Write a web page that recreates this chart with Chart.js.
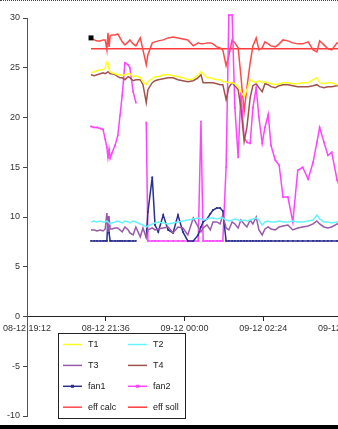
<!DOCTYPE html>
<html>
<head>
<meta charset="utf-8">
<script src="https://cdn.jsdelivr.net/npm/chart.js@4/dist/chart.umd.min.js"></script>
<style>
  html, body { margin: 0; padding: 0; background: #fff; overflow: hidden; }
  #marco { position: relative; width: 338px; height: 429px; overflow: hidden; }
  #grafico { position: absolute; left: 0; top: 0; }
  #lineaSup { position: absolute; left: 0; top: 0; width: 338px; border-top: 1px dotted #444; }
  #bandaInf { position: absolute; left: 0; top: 425px; width: 338px; height: 4px; background: #000; }
</style>
</head>
<body>
<div id="marco">
  <canvas id="grafico" width="400" height="429"></canvas>
  <div id="lineaSup"></div>
  <div id="bandaInf"></div>
</div>
<script>
// horas de medición (08-12 noche -> 09-12 madrugada)
const horas = [
  '21:09','21:15','21:20','21:26','21:31','21:35','21:38','21:40','21:42','21:44',
  '21:47','21:53','21:58','22:02','22:06','22:11','22:17','22:20','22:26','22:31',
  '22:39','22:44','22:50','22:53','23:01','23:06','23:12','23:21','23:30','23:39',
  '23:48','23:57','00:06','00:16','00:25','00:30','00:34','00:41','00:47','00:52',
  '00:59','01:05','01:10','01:16','01:21','01:27','01:32','01:38','01:43','01:49',
  '01:54','02:00','02:05','02:11','02:16','02:22','02:27','02:33','02:38','02:46',
  '02:53','03:00','03:09','03:18','03:27','03:36','03:46','03:55','04:02','04:07',
  '04:15','04:22','04:29','04:39','04:48'
];

const t1 = [
  24.5, 24.6, 24.7, 24.8, 24.8, 25.0, 25.6, 25.5, 24.8, 24.6,
  24.5, 24.4, 24.3, 24.3, 24.2, 24.3, 24.4, 24.4, 24.1, 24.2,
  24.0, 23.6, 23.3, 23.6, 23.9, 24.1, 24.1, 24.3, 24.3, 24.2,
  24.1, 24.0, 23.8, 23.9, 24.3, 24.6, 24.4, 24.0, 24.0, 23.9,
  23.8, 23.8, 23.6, 23.6, 23.5, 23.5, 23.4, 23.1, 22.6, 22.1,
  22.8, 23.8, 23.6, 23.5, 23.7, 23.5, 23.6, 23.5, 23.4, 23.3,
  23.4, 23.5, 23.5, 23.4, 23.4, 23.5, 23.5, 23.8, 24.0, 23.5,
  23.4, 23.5, 23.5, 23.3, 23.4
];

const t2 = [
  9.5, 9.6, 9.5, 9.6, 9.5, 9.5, 9.6, 9.5, 9.4, 9.3,
  9.4, 9.5, 9.6, 9.5, 9.4, 9.6, 9.5, 9.4, 9.6, 9.5,
  9.3, 9.2, 9.0, 9.1, 9.3, 9.4, 9.5, 9.4, 9.3, 9.4,
  9.5, 9.6, 9.7, 9.8, 9.9, 9.8, 9.7, 9.8, 9.9, 9.9,
  9.8, 9.9, 9.9, 9.7, 9.6, 9.7, 9.8, 9.7, 9.6, 9.7,
  9.6, 9.7, 9.8, 9.9, 9.7, 9.2, 9.5, 9.6, 9.5, 9.5,
  9.6, 9.5, 9.5, 9.6, 9.5, 9.5, 9.6, 9.7, 10.2, 9.8,
  9.5, 9.5, 9.4, 9.5, 9.5
];

const t3 = [
  8.7, 8.7, 8.6, 8.7, 8.6, 8.8, 10.4, 8.5, 10.1, 8.8,
  8.8, 8.9, 8.9, 8.7, 8.5, 9.0, 8.7, 8.4, 8.2, 9.0,
  8.0, 8.9, 7.9, 8.7, 8.9, 8.7, 8.8, 8.9, 9.0, 8.4,
  9.0, 8.9, 8.2, 9.9, 9.0, 8.5, 8.9, 9.2, 8.7, 9.5,
  9.5, 9.3, 10.2, 8.9, 8.7, 9.5, 9.3, 8.9, 9.7, 9.3,
  9.0, 9.7, 9.3, 10.0, 8.7, 8.2, 8.8, 9.0, 8.8, 8.7,
  9.0, 9.1, 9.2, 8.7, 8.9, 9.0, 9.1, 9.3, 9.6, 9.3,
  9.0, 8.9, 9.0, 9.3, 9.4
];

const t4 = [
  24.3, 24.2, 24.3, 24.4, 24.5, 24.4, 24.5, 24.6, 24.5, 24.4,
  24.4, 24.3, 24.1, 24.0, 24.0, 23.8, 24.1, 24.0, 23.7, 23.8,
  23.8, 23.3, 21.5, 22.8, 23.5, 23.7, 23.8, 23.9, 24.0, 24.0,
  23.8, 23.7, 23.6, 23.7, 24.0, 24.3, 23.5, 23.5, 23.5, 23.5,
  23.4, 23.3, 23.3, 21.8, 23.0, 23.5, 23.2, 22.8, 21.0, 17.6,
  19.0, 22.0, 23.2, 23.4, 23.0, 22.6, 23.4, 23.3, 23.1, 23.0,
  23.2, 23.3, 23.3, 23.2, 23.1, 23.1, 23.1, 23.2, 23.3, 23.1,
  23.0, 23.1, 23.1, 23.2, 23.3
];

const fan1 = [
  7.6, 7.6, 7.6, 7.6, 7.6, 7.6, 7.6, 10.0, 8.4, 7.6,
  7.6, 7.6, 7.6, 7.6, 7.6, 7.6, 7.6, 7.6, 7.6, 7.6,
  null, null, 8.0, 10.5, 14.0, 9.2, 8.5, 10.2, 8.7, 8.4,
  10.2, 8.5, 7.6, 7.6, 8.2, 9.0, 9.5, 9.8, 10.3, 10.7,
  10.9, 10.9, 10.6, 7.6, 7.6, 7.6, 7.6, 7.6, 7.6, 7.6,
  7.6, 7.6, 7.6, 7.6, 7.6, 7.6, 7.6, 7.6, 7.6, 7.6,
  7.6, 7.6, 7.6, 7.6, 7.6, 7.6, 7.6, 7.6, 7.6, 7.6,
  7.6, 7.6, 7.6, 7.6, 7.6
];

const fan2 = [
  19.1, 19.0, 19.0, 18.9, 18.8, 17.8, 17.0, 16.0, 16.8, 15.9,
  16.4, 17.2, 18.2, 20.2, 22.2, 25.5, 25.3, 25.0, 22.6, 21.5,
  null, null, 19.5, 7.6, 7.6, 7.6, 7.6, 7.6, 7.6, 7.6,
  7.6, 7.6, 7.6, 7.6, 7.6, 19.6, 7.6, 7.6, 7.6, 7.6,
  7.6, 7.6, 7.6, 15.0, 30.3, 30.3, 21.0, 16.0, 22.5, 18.0,
  17.5, 17.4, 21.0, 23.0, 20.0, 17.4, 19.0, 20.3, 17.2, 15.7,
  15.2, 12.0, 12.0, 9.5, 14.7, 15.0, 13.8, 15.5, 17.5, 19.0,
  17.5, 16.2, 16.5, 13.7, 12.5
];

const effCalc = [
  28.0, 27.8, 27.7, 27.7, 27.8, 27.8, 26.8, 28.5, 27.1, 28.2,
  28.3, 28.3, 28.4, 28.0, 27.6, 27.3, 27.6, 27.8, 27.4, 27.2,
  28.0, 26.8, 25.3, 26.3, 27.5, 27.6, 27.7, 27.8, 28.0, 28.1,
  28.0, 27.9, 27.8, 27.2, 27.5, 27.4, 27.4, 27.5, 27.5, 27.4,
  27.1, 27.0, 26.8, 25.2, 26.2, 27.8, 27.5, 27.0, 24.2, 20.6,
  23.0, 25.5, 27.2, 28.0, 26.8, 27.0, 27.6, 27.4, 27.2, 27.1,
  27.4, 27.8, 27.7, 27.5, 27.4, 27.4, 27.6, 26.8, 26.6, 27.7,
  27.3, 26.9, 26.8, 27.5, 27.4
];

const horasSoll = ['21:09', '04:48'];
const effSoll = [26.9, 26.9];

const etiquetasX = ['08-12 19:12', '08-12 21:36', '09-12 00:00', '09-12 02:24', '09-12 04:48'];

// minutos desde 08-12 19:12
function minutos(h) {
  const [hh, mm] = h.split(':').map(Number);
  let m = hh * 60 + mm;
  if (hh < 12) m += 1440;
  return m - (19 * 60 + 12);
}

function puntos(tiempos, valores) {
  return tiempos.map((h, i) => ({ x: minutos(h), y: valores[i] }));
}

function serie(label, data, color, conPuntos) {
  return {
    label: label,
    data: data,
    borderColor: color,
    backgroundColor: color,
    borderWidth: 1.5,
    pointRadius: conPuntos ? 1.2 : 0,
    pointStyle: 'rect',
    pointBorderWidth: 0,
    fill: false,
    tension: 0,
    spanGaps: false,
    clip: 5
  };
}

const datasets = [
  serie('T1', puntos(horas, t1), '#ffff22', false),
  serie('T2', puntos(horas, t2), '#66f4ff', false),
  serie('T3', puntos(horas, t3), '#9a5aaa', false),
  serie('T4', puntos(horas, t4), '#a0524d', false),
  serie('fan1', puntos(horas, fan1), '#2b2f8f', true),
  serie('fan2', puntos(horas, fan2), '#ff44ff', true),
  serie('eff calc', puntos(horas, effCalc), '#ff4a4a', false),
  serie('eff soll', puntos(horasSoll, effSoll), '#ff3c3c', false)
];

// marcador negro cuadrado al inicio de eff calc
datasets[6].pointRadius = ctx => ctx.dataIndex === 0 ? 3.5 : 0;
datasets[6].pointBackgroundColor = '#000';
datasets[6].pointBorderColor = '#000';

const fuente = { family: 'Arial, "Liberation Sans", sans-serif', size: 9 };

const leyendaPropia = {
  id: 'leyendaPropia',
  afterDraw(chart) {
    const ctx = chart.ctx;
    ctx.save();
    ctx.fillStyle = '#fff';
    ctx.fillRect(58.5, 333.5, 127, 85);
    ctx.strokeStyle = '#222';
    ctx.lineWidth = 1;
    ctx.strokeRect(58.5, 333.5, 127, 85);
    ctx.font = '9px Arial, "Liberation Sans", sans-serif';
    ctx.textBaseline = 'middle';
    chart.data.datasets.forEach((ds, i) => {
      const x = i % 2 === 0 ? 63 : 128;
      const y = 344.5 + Math.floor(i / 2) * 20.9;
      ctx.strokeStyle = ds.borderColor;
      ctx.lineWidth = 1.5;
      ctx.beginPath();
      ctx.moveTo(x, y);
      ctx.lineTo(x + 19, y);
      ctx.stroke();
      if (typeof ds.pointRadius === 'number' && ds.pointRadius > 0) {
        ctx.fillStyle = ds.borderColor;
        ctx.fillRect(x + 8, y - 1.5, 3, 3);
      }
      ctx.fillStyle = '#222';
      ctx.fillText(ds.label, x + 25, y + 0.5);
    });
    ctx.restore();
  }
};

const ctx = document.getElementById('grafico').getContext('2d');
window.miGrafico = new Chart(ctx, {
  type: 'line',
  data: { datasets: datasets },
  plugins: [leyendaPropia],
  options: {
    responsive: false,
    animation: false,
    layout: { padding: { top: 18, bottom: 13, left: 0, right: 12 } },
    plugins: {
      legend: { display: false },
      tooltip: { enabled: false }
    },
    scales: {
      x: {
        type: 'linear',
        position: { y: 0 },
        min: 0,
        max: 660,
        grid: { drawOnChartArea: false, tickLength: 4, color: '#222' },
        border: { color: '#222', width: 1 },
        ticks: {
          stepSize: 144,
          autoSkip: false,
          maxRotation: 0,
          padding: 3,
          color: '#333',
          font: fuente,
          callback: v => (v % 144 === 0 ? (etiquetasX[v / 144] || '') : '')
        }
      },
      y: {
        min: -10,
        max: 30,
        afterFit: s => { s.width = 27; },
        grid: { drawOnChartArea: false, tickLength: 4, color: '#444' },
        border: { color: '#555', width: 1 },
        ticks: { stepSize: 5, padding: 3, color: '#333', font: fuente }
      }
    }
  }
});
</script>
</body>
</html>
